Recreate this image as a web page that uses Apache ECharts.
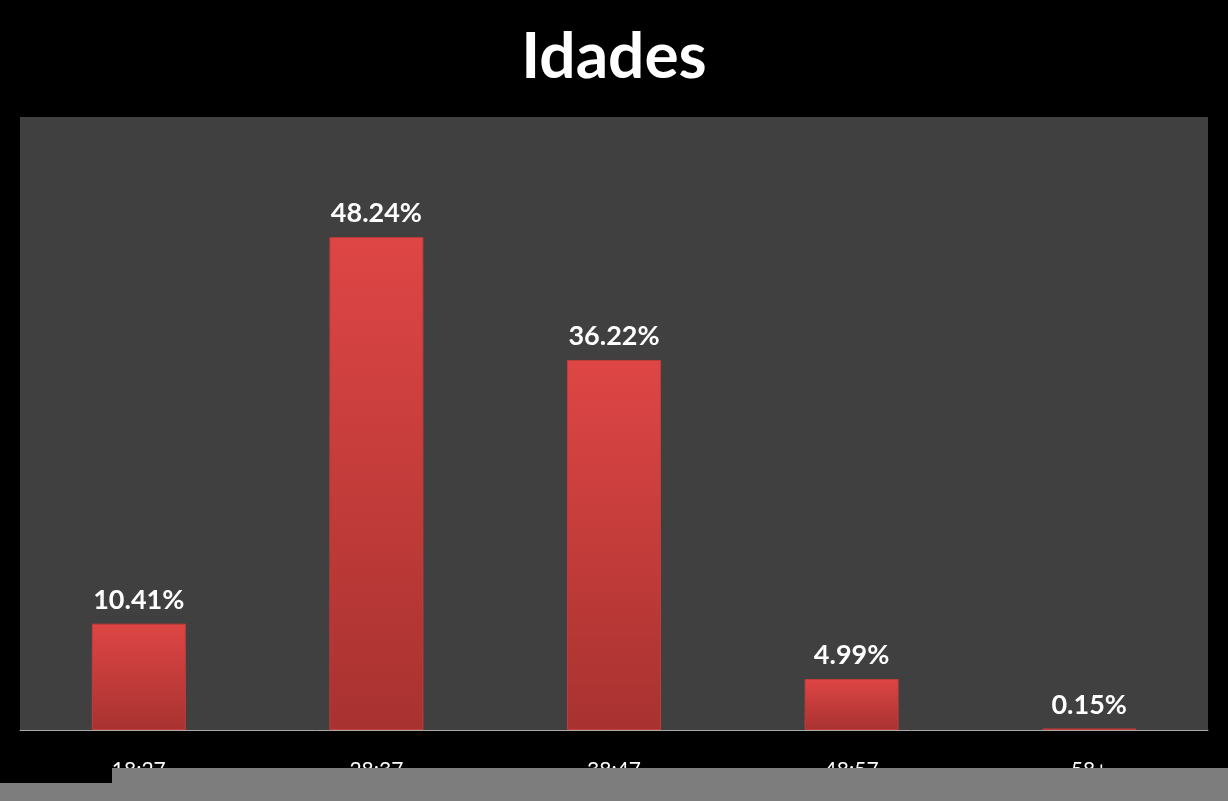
<!DOCTYPE html>
<html>
<head>
<meta charset="utf-8">
<script src="https://cdn.jsdelivr.net/npm/echarts@6/dist/echarts.min.js"></script>
<style>html,body{margin:0;padding:0;background:#000;}#echarts{width:1228px;height:801px;}</style>
</head>
<body>
<div id="echarts"></div>
<script>
var faixas = ['18:27', '28:37', '38:47', '48:57', '58+'];
var valores = [10.41, 48.24, 36.22, 4.99, 0.15];

var myecharts = echarts.init(document.getElementById('echarts'));
var option = {
	backgroundColor: '#000',
	title: {
		text: 'Idades',
		left: 'center',
		top: 20,
		textStyle: { color: '#fff', fontSize: 64, fontWeight: 'bold', fontFamily: 'Lato' }
	},
	grid: { left: 20, right: 20, top: 117, bottom: 71, backgroundColor: '#404040', show: true, borderWidth: 0 },
	xAxis: {
		type: 'category',
		data: faixas,
		axisLine: { lineStyle: { color: '#aaa', width: 1 } },
		axisTick: { show: false },
		axisLabel: { color: '#fff', fontSize: 21, fontFamily: 'Lato', margin: 30 }
	},
	yAxis: { type: 'value', min: 0, max: 60, show: false, splitLine: { show: false } },
	series: [{
		type: 'bar',
		data: valores,
		barWidth: 94,
		itemStyle: {
			color: new echarts.graphic.LinearGradient(0, 0, 0, 1, [
				{ offset: 0, color: '#de4645' },
				{ offset: 1, color: '#a83230' }
			]),
			borderColor: '#c23c3a',
			borderWidth: 1
		},
		label: {
			show: true,
			position: 'top',
			distance: 10,
			formatter: function (p) { return p.value.toFixed(2) + '%'; },
			color: '#fff',
			fontSize: 27,
			fontWeight: 'bold',
			fontFamily: 'Lato'
		}
	}],
	graphic: [
		{ type: 'rect', shape: { x: 112, y: 768, width: 1116, height: 33 }, style: { fill: '#7d7d7d' }, z: 100 },
		{ type: 'rect', shape: { x: 0, y: 783, width: 112, height: 18 }, style: { fill: '#7d7d7d' }, z: 100 }
	]
};
myecharts.setOption(option);
</script>
</body>
</html>
